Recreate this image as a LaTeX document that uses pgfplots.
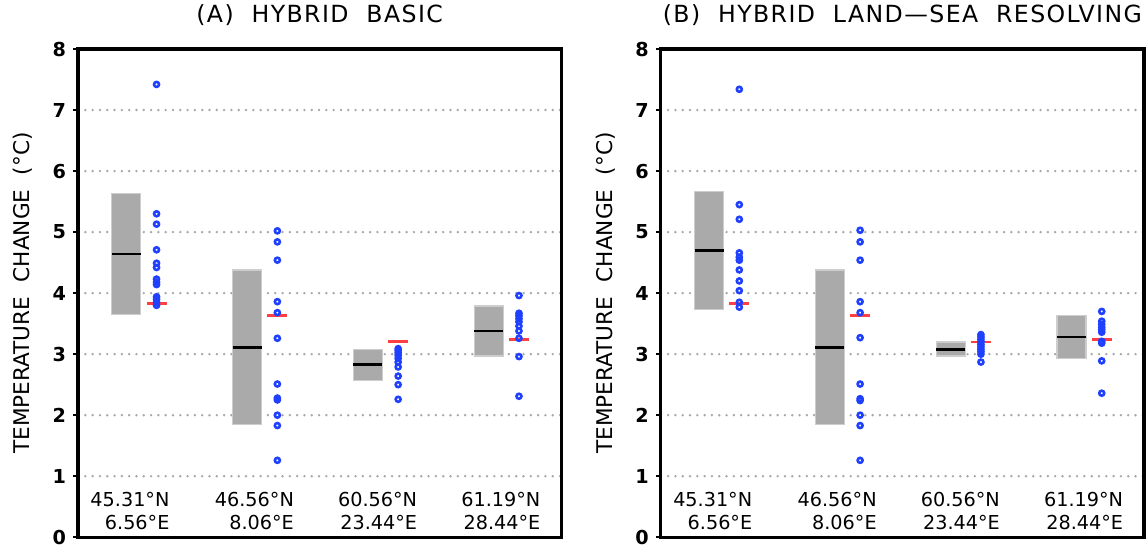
\documentclass[border=0pt]{standalone}
\usepackage{fontspec}
\setmainfont{DejaVu Sans}
\usepackage{pgfplots}
\pgfplotsset{compat=1.18}

\definecolor{boxgray}{RGB}{170,170,170}
\definecolor{boxedge}{RGB}{205,205,205}
\definecolor{dotblue}{RGB}{32,64,255}
\definecolor{meanred}{RGB}{255,64,64}
\definecolor{gridgray}{RGB}{168,168,168}

\pgfplotsset{
  panel/.style={
    scale only axis, width=241.5pt, height=244pt,
    xmin=-0.4, xmax=3.6, ymin=0, ymax=8,
    xtick=\empty, ytick={0,...,8}, ytick pos=left,
    tick align=outside, major tick length=2.5pt,
    tick style={black, line width=1.2pt},
    axis line style={line width=1.6pt},
    ymajorgrids,
    major grid style={gridgray, line width=1.35pt, dash pattern=on 0pt off 3.65pt, line cap=round},
    /pgf/number format/assume math mode=true,
    yticklabel style={font=\bfseries\fontsize{9.6}{11}\selectfont},
    ylabel={TEMPERATURE\hspace{0.35em} CHANGE\hspace{0.35em} (°C)},
    ylabel style={at={(axis description cs:-0.114,0.5)}, anchor=center, font=\fontsize{10.8}{13}\selectfont},
    title style={at={(axis description cs:0.5,1)}, anchor=base, yshift=7.5pt,
      font=\fontsize{11.8}{14}\selectfont\addfontfeatures{LetterSpace=6}},
    clip=false,
  },
  box/.style={fill=boxgray, draw=boxedge, line width=0.6pt},
  med/.style={black, line width=1.3pt},
  ens/.style={meanred, line width=1.3pt},
  runs/.style={only marks, mark=o, mark size=1.25pt, dotblue, mark options={line width=1.3pt}},
}
\tikzset{site/.style={align=right, font=\fontsize{9.6}{11.25}\selectfont}}

\begin{document}
\begin{tikzpicture}
% ---------------- (A) hybrid basic
\begin{axis}[panel, name=A, title={(A)\ \ HYBRID\ \ BASIC}]
% site 1
\addplot[box] coordinates {(-0.12,3.65) (0.12,3.65) (0.12,5.63) (-0.12,5.63)} --cycle;
\addplot[med] coordinates {(-0.12,4.64) (0.12,4.64)};
\addplot[runs] coordinates {(0.25,7.42) (0.25,5.30) (0.25,5.13) (0.25,4.71) (0.25,4.49) (0.25,4.42)
  (0.25,4.23) (0.25,4.18) (0.25,4.14) (0.25,3.94) (0.25,3.90) (0.25,3.85) (0.25,3.80)};
\addplot[ens] coordinates {(0.167,3.83) (0.333,3.83)};
% site 2
\addplot[box] coordinates {(0.88,1.85) (1.12,1.85) (1.12,4.38) (0.88,4.38)} --cycle;
\addplot[med] coordinates {(0.88,3.11) (1.12,3.11)};
\addplot[runs] coordinates {(1.25,5.02) (1.25,4.84) (1.25,4.54) (1.25,3.86) (1.25,3.68) (1.25,3.26)
  (1.25,2.51) (1.25,2.28) (1.25,2.25) (1.25,2.00) (1.25,1.83) (1.25,1.26)};
\addplot[ens] coordinates {(1.167,3.63) (1.333,3.63)};
% site 3
\addplot[box] coordinates {(1.88,2.57) (2.12,2.57) (2.12,3.08) (1.88,3.08)} --cycle;
\addplot[med] coordinates {(1.88,2.83) (2.12,2.83)};
\addplot[runs] coordinates {(2.25,3.09) (2.25,3.06) (2.25,3.02) (2.25,2.98) (2.25,2.93) (2.25,2.87)
  (2.25,2.79) (2.25,2.64) (2.25,2.50) (2.25,2.26)};
\addplot[ens] coordinates {(2.167,3.21) (2.333,3.21)};
% site 4
\addplot[box] coordinates {(2.88,2.97) (3.12,2.97) (3.12,3.79) (2.88,3.79)} --cycle;
\addplot[med] coordinates {(2.88,3.38) (3.12,3.38)};
\addplot[runs] coordinates {(3.25,3.96) (3.25,3.67) (3.25,3.63) (3.25,3.58) (3.25,3.53) (3.25,3.46)
  (3.25,3.38) (3.25,3.26) (3.25,2.96) (3.25,2.31)};
\addplot[ens] coordinates {(3.167,3.24) (3.333,3.24)};
\node[site] at (axis cs:0.03,0.43) {45.31°N\\6.56°E};
\node[site] at (axis cs:1.06,0.43) {46.56°N\\8.06°E};
\node[site] at (axis cs:2.08,0.43) {60.56°N\\23.44°E};
\node[site] at (axis cs:3.10,0.43) {61.19°N\\28.44°E};
\end{axis}

% ---------------- (B) hybrid land-sea resolving
\begin{axis}[panel, name=B, at={(291.25pt,0)}, title={(B)\ \ HYBRID\ \ LAND—SEA\ \ RESOLVING}]
% site 1
\addplot[box] coordinates {(-0.12,3.73) (0.12,3.73) (0.12,5.67) (-0.12,5.67)} --cycle;
\addplot[med] coordinates {(-0.12,4.70) (0.12,4.70)};
\addplot[runs] coordinates {(0.25,7.34) (0.25,5.45) (0.25,5.21) (0.25,4.66) (0.25,4.59) (0.25,4.54)
  (0.25,4.38) (0.25,4.20) (0.25,4.04) (0.25,3.85) (0.25,3.77)};
\addplot[ens] coordinates {(0.167,3.83) (0.333,3.83)};
% site 2
\addplot[box] coordinates {(0.88,1.85) (1.12,1.85) (1.12,4.38) (0.88,4.38)} --cycle;
\addplot[med] coordinates {(0.88,3.11) (1.12,3.11)};
\addplot[runs] coordinates {(1.25,5.03) (1.25,4.84) (1.25,4.54) (1.25,3.86) (1.25,3.68) (1.25,3.27)
  (1.25,2.51) (1.25,2.27) (1.25,2.24) (1.25,2.00) (1.25,1.83) (1.25,1.26)};
\addplot[ens] coordinates {(1.167,3.63) (1.333,3.63)};
% site 3
\addplot[box] coordinates {(1.88,2.97) (2.12,2.97) (2.12,3.20) (1.88,3.20)} --cycle;
\addplot[med] coordinates {(1.88,3.08) (2.12,3.08)};
\addplot[runs] coordinates {(2.25,3.32) (2.25,3.28) (2.25,3.24) (2.25,3.20) (2.25,3.16) (2.25,3.12)
  (2.25,3.08) (2.25,3.04) (2.25,3.00) (2.25,2.87)};
\addplot[ens] coordinates {(2.167,3.20) (2.333,3.20)};
% site 4
\addplot[box] coordinates {(2.88,2.93) (3.12,2.93) (3.12,3.63) (2.88,3.63)} --cycle;
\addplot[med] coordinates {(2.88,3.28) (3.12,3.28)};
\addplot[runs] coordinates {(3.25,3.70) (3.25,3.54) (3.25,3.49) (3.25,3.44) (3.25,3.40) (3.25,3.36)
  (3.25,3.21) (3.25,3.18) (3.25,2.89) (3.25,2.36)};
\addplot[ens] coordinates {(3.167,3.24) (3.333,3.24)};
\node[site] at (axis cs:0.03,0.43) {45.31°N\\6.56°E};
\node[site] at (axis cs:1.06,0.43) {46.56°N\\8.06°E};
\node[site] at (axis cs:2.08,0.43) {60.56°N\\23.44°E};
\node[site] at (axis cs:3.10,0.43) {61.19°N\\28.44°E};
\end{axis}

\pgfresetboundingbox
\path[use as bounding box] ([shift={(-39pt,-5pt)}]A.south west) rectangle ([shift={(2pt,24.5pt)}]B.north east);
\end{tikzpicture}
\end{document}
